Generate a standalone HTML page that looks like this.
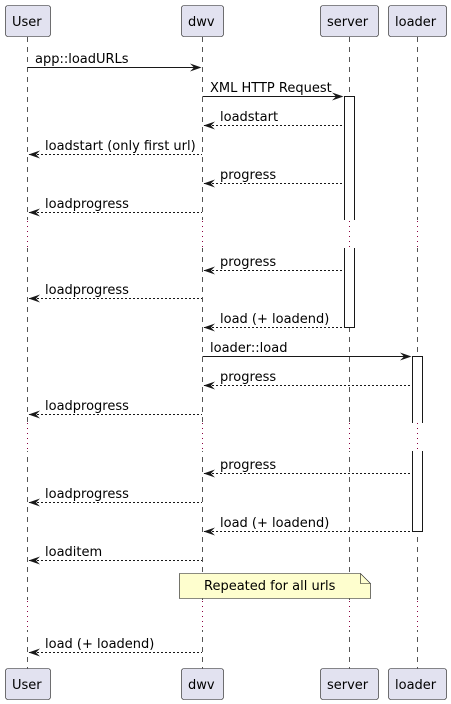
<!DOCTYPE html>
<html><head><meta charset="utf-8"><style>
html,body{margin:0;padding:0;background:#fff;}
svg{display:block;}
text{font-family:"DejaVu Sans","Liberation Sans",sans-serif;font-size:13px;fill:#000;}
</style></head><body>
<svg width="451" height="704" viewBox="0 0 451 704" xmlns="http://www.w3.org/2000/svg">
<!-- lifelines -->
<g stroke="#555" stroke-width="1" stroke-dasharray="5,5">
<line x1="27.5" y1="37" x2="27.5" y2="669"/>
<line x1="202.5" y1="37" x2="202.5" y2="669"/>
<line x1="349.5" y1="37" x2="349.5" y2="669"/>
<line x1="417.5" y1="37" x2="417.5" y2="669"/>
</g>
<!-- delay gaps -->
<g fill="#fff">
<rect x="0" y="220" width="451" height="28"/>
<rect x="0" y="422" width="451" height="29"/>
<rect x="0" y="600" width="451" height="30"/>
</g>
<g stroke="#8b0040" stroke-width="1" stroke-dasharray="1,4">
<line x1="27.5" y1="221" x2="27.5" y2="248"/><line x1="202.5" y1="221" x2="202.5" y2="248"/><line x1="349.5" y1="221" x2="349.5" y2="248"/><line x1="417.5" y1="221" x2="417.5" y2="248"/>
<line x1="27.5" y1="423" x2="27.5" y2="451"/><line x1="202.5" y1="423" x2="202.5" y2="451"/><line x1="349.5" y1="423" x2="349.5" y2="451"/><line x1="417.5" y1="423" x2="417.5" y2="451"/>
<line x1="27.5" y1="601" x2="27.5" y2="630"/><line x1="202.5" y1="601" x2="202.5" y2="630"/><line x1="349.5" y1="601" x2="349.5" y2="630"/><line x1="417.5" y1="601" x2="417.5" y2="630"/>
</g>
<!-- activations -->
<g fill="#fff" stroke="#181818" stroke-width="1">
<polyline points="344.5,220 344.5,96.5 354.5,96.5 354.5,220"/>
<polyline points="344.5,248 344.5,327.5 354.5,327.5 354.5,248"/>
<polyline points="412.5,423 412.5,356.5 422.5,356.5 422.5,423"/>
<polyline points="412.5,451 412.5,531.5 422.5,531.5 422.5,451"/>
</g>
<!-- participants -->
<g fill="#e2e2f0" stroke="#181818" stroke-width="0.6">
<rect x="5.5" y="5.5" width="45" height="31" rx="2.5"/>
<rect x="181.5" y="5.5" width="42" height="31" rx="2.5"/>
<rect x="320.5" y="5.5" width="58" height="31" rx="2.5"/>
<rect x="388.5" y="5.5" width="58" height="31" rx="2.5"/>
<rect x="5.5" y="668.5" width="45" height="31" rx="2.5"/>
<rect x="181.5" y="668.5" width="42" height="31" rx="2.5"/>
<rect x="320.5" y="668.5" width="58" height="31" rx="2.5"/>
<rect x="388.5" y="668.5" width="58" height="31" rx="2.5"/>
</g>
<g style="font-size:14px">
<text x="12" y="26">User</text><text x="188" y="26">dwv</text><text x="327" y="26">server</text><text x="395" y="26">loader</text>
<text x="12" y="689">User</text><text x="188" y="689">dwv</text><text x="327" y="689">server</text><text x="395" y="689">loader</text>
</g>
<!-- solid messages -->
<g stroke="#181818" stroke-width="1">
<line x1="27.5" y1="67.5" x2="200" y2="67.5"/>
<line x1="202.5" y1="96.5" x2="342" y2="96.5"/>
<line x1="202.5" y1="356.5" x2="410" y2="356.5"/>
</g>
<g fill="#181818">
<polygon points="190,63.5 201.5,67.5 190,71.5 194,67.5"/>
<polygon points="332,92.5 343.5,96.5 332,100.5 336,96.5"/>
<polygon points="400,352.5 411.5,356.5 400,360.5 404,356.5"/>
</g>
<!-- dashed messages -->
<g stroke="#181818" stroke-width="1" stroke-dasharray="2,2">
<line x1="204" y1="125.5" x2="344" y2="125.5"/>
<line x1="29" y1="154.5" x2="202" y2="154.5"/>
<line x1="204" y1="183.5" x2="344" y2="183.5"/>
<line x1="29" y1="212.5" x2="202" y2="212.5"/>
<line x1="204" y1="270.5" x2="344" y2="270.5"/>
<line x1="29" y1="298.5" x2="202" y2="298.5"/>
<line x1="204" y1="327.5" x2="344" y2="327.5"/>
<line x1="204" y1="385.5" x2="412" y2="385.5"/>
<line x1="29" y1="414.5" x2="202" y2="414.5"/>
<line x1="204" y1="473.5" x2="412" y2="473.5"/>
<line x1="29" y1="502.5" x2="202" y2="502.5"/>
<line x1="204" y1="531.5" x2="412" y2="531.5"/>
<line x1="29" y1="560.5" x2="202" y2="560.5"/>
<line x1="29" y1="652.5" x2="202" y2="652.5"/>
</g>
<g fill="#181818">
<polygon points="215,121.5 203.5,125.5 215,129.5 211,125.5"/>
<polygon points="40,150.5 28.5,154.5 40,158.5 36,154.5"/>
<polygon points="215,179.5 203.5,183.5 215,187.5 211,183.5"/>
<polygon points="40,208.5 28.5,212.5 40,216.5 36,212.5"/>
<polygon points="215,266.5 203.5,270.5 215,274.5 211,270.5"/>
<polygon points="40,294.5 28.5,298.5 40,302.5 36,298.5"/>
<polygon points="215,323.5 203.5,327.5 215,331.5 211,327.5"/>
<polygon points="215,381.5 203.5,385.5 215,389.5 211,385.5"/>
<polygon points="40,410.5 28.5,414.5 40,418.5 36,414.5"/>
<polygon points="215,469.5 203.5,473.5 215,477.5 211,473.5"/>
<polygon points="40,498.5 28.5,502.5 40,506.5 36,502.5"/>
<polygon points="215,527.5 203.5,531.5 215,535.5 211,531.5"/>
<polygon points="40,556.5 28.5,560.5 40,564.5 36,560.5"/>
<polygon points="40,648.5 28.5,652.5 40,656.5 36,652.5"/>
</g>
<!-- labels -->
<text x="35" y="63">app::loadURLs</text>
<text x="210" y="92">XML HTTP Request</text>
<text x="220" y="121">loadstart</text>
<text x="45" y="150">loadstart (only first url)</text>
<text x="220" y="179">progress</text>
<text x="45" y="208">loadprogress</text>
<text x="220" y="266">progress</text>
<text x="45" y="294">loadprogress</text>
<text x="220" y="323">load (+ loadend)</text>
<text x="210" y="352">loader::load</text>
<text x="220" y="381">progress</text>
<text x="45" y="410">loadprogress</text>
<text x="220" y="469">progress</text>
<text x="45" y="498">loadprogress</text>
<text x="220" y="527">load (+ loadend)</text>
<text x="45" y="556">loaditem</text>
<text x="45" y="648">load (+ loadend)</text>
<!-- note -->
<path d="M179.5,573.5 L360.5,573.5 L370.5,583.5 L370.5,598.5 L179.5,598.5 Z" fill="#fefece" stroke="#181818" stroke-width="0.6"/>
<path d="M360.5,573.5 L360.5,583.5 L370.5,583.5" fill="none" stroke="#181818" stroke-width="0.6"/>
<text x="204" y="590">Repeated for all urls</text>
</svg>
</body></html>
